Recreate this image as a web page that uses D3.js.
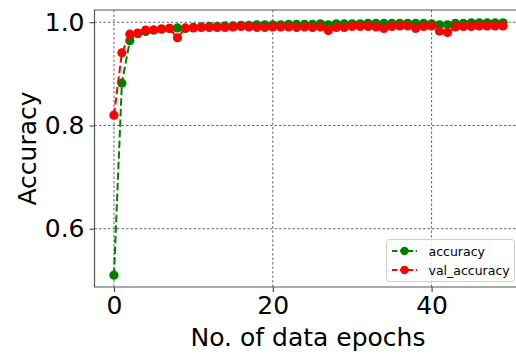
<!DOCTYPE html>
<html>
<head>
<meta charset="utf-8">
<script src="https://cdn.jsdelivr.net/npm/d3@7"></script>
<style>
  body { margin: 0; background: white; }
  text { font-family: "DejaVu Sans", sans-serif; fill: black; }
</style>
</head>
<body>
<svg id="chart"></svg>
<script>
const epochs = d3.range(0, 50)
const accuracy = [0.510, 0.882, 0.964, 0.978, 0.982, 0.985, 0.987, 0.988, 0.989, 0.988,
                  0.990, 0.991, 0.992, 0.992, 0.993, 0.993, 0.994, 0.994, 0.995, 0.995,
                  0.995, 0.995, 0.996, 0.996, 0.996, 0.996, 0.997, 0.995, 0.997, 0.997,
                  0.997, 0.997, 0.998, 0.998, 0.998, 0.998, 0.998, 0.998, 0.998, 0.998,
                  0.997, 0.995, 0.995, 0.998, 0.998, 0.999, 0.999, 0.999, 0.999, 0.999]
const valAccuracy = [0.820, 0.941, 0.977, 0.979, 0.985, 0.985, 0.987, 0.988, 0.970, 0.989,
                     0.989, 0.990, 0.990, 0.990, 0.990, 0.991, 0.992, 0.991, 0.990, 0.990,
                     0.991, 0.991, 0.991, 0.990, 0.991, 0.990, 0.991, 0.984, 0.990, 0.990,
                     0.992, 0.992, 0.992, 0.991, 0.988, 0.992, 0.993, 0.993, 0.988, 0.992,
                     0.993, 0.983, 0.980, 0.991, 0.992, 0.992, 0.993, 0.993, 0.993, 0.993]
const xTicks = [0, 20, 40]
const yTicks = [0.6, 0.8, 1.0]
const seriesNames = ["accuracy", "val_accuracy"]
const seriesColors = ["#008000", "#ff0000"]

const width = 516, height = 354
const plot = {left: 94.5, right: 522.5, top: 10, bottom: 287}
const bigFont = "25px"

const svg = d3.select("#chart").attr("width", width).attr("height", height)

const x = d3.scaleLinear().domain([-2.45, 51.45]).range([plot.left, plot.right])
const y = d3.scaleLinear().domain([0.487, 1.0238]).range([plot.bottom, plot.top])

// grid
svg.append("g").selectAll("line.vgrid")
    .data(xTicks).join("line")
    .attr("x1", d => x(d)).attr("x2", d => x(d))
    .attr("y1", plot.top).attr("y2", plot.bottom)
    .style("stroke", "#444").style("stroke-width", 0.8)
    .style("stroke-dasharray", "2.5,2")
svg.append("g").selectAll("line.hgrid")
    .data(yTicks).join("line")
    .attr("x1", plot.left).attr("x2", plot.right)
    .attr("y1", d => y(d)).attr("y2", d => y(d))
    .style("stroke", "#444").style("stroke-width", 0.8)
    .style("stroke-dasharray", "2.5,2")

// axes
const xAxis = svg.append("g")
    .attr("transform", `translate(0, ${plot.bottom})`)
    .call(d3.axisBottom(x).tickValues(xTicks).tickFormat(d3.format("d")).tickSize(5).tickPadding(4))
const yAxis = svg.append("g")
    .attr("transform", `translate(${plot.left}, 0)`)
    .call(d3.axisLeft(y).tickValues(yTicks).tickFormat(d3.format(".1f")).tickSize(5).tickPadding(5))

for (const ax of [xAxis, yAxis]) {
    ax.select(".domain").remove()
    ax.selectAll("line").style("stroke", "#333").style("stroke-width", 1)
    ax.selectAll("text").style("font-size", bigFont).style("font-family", "DejaVu Sans")
}

// spines
svg.append("path")
    .attr("d", `M${plot.right},${plot.top}H${plot.left}V${plot.bottom}H${plot.right}`)
    .style("fill", "none").style("stroke", "#555").style("stroke-width", 1.2)

// series
const drawSeries = (values, color) => {
    const pts = epochs.map((e, i) => [e, values[i]])
    svg.append("path")
        .datum(pts)
        .attr("d", d3.line().x(d => x(d[0])).y(d => y(d[1])))
        .style("fill", "none").style("stroke", color)
        .style("stroke-width", 2).style("stroke-dasharray", "7.4,3.2")
    svg.append("g").selectAll("circle")
        .data(pts).join("circle")
        .attr("cx", d => x(d[0])).attr("cy", d => y(d[1]))
        .attr("r", 4.6)
        .style("fill", color)
}
drawSeries(accuracy, seriesColors[0])
drawSeries(valAccuracy, seriesColors[1])

// axis labels
svg.append("text").text("No. of data epochs")
    .attr("x", 308).attr("y", 345.5)
    .attr("text-anchor", "middle").style("font-size", bigFont)
svg.append("text").text("Accuracy")
    .attr("transform", `translate(35.5, ${(plot.top + plot.bottom) / 2}) rotate(-90)`)
    .attr("text-anchor", "middle").style("font-size", bigFont)

// legend
const legend = svg.append("g")
legend.append("rect")
    .attr("x", 386.5).attr("y", 239.5).attr("width", 128).attr("height", 42)
    .attr("rx", 3)
    .style("fill", "white").style("fill-opacity", 0.8)
    .style("stroke", "#d0d0d0").style("stroke-width", 1)
const legendRows = legend.selectAll("g.row")
    .data(seriesNames).join("g")
    .attr("transform", (d, i) => `translate(0, ${251 + i * 19})`)
legendRows.append("line")
    .attr("x1", 392).attr("x2", 417).attr("y1", 0).attr("y2", 0)
    .style("stroke", (d, i) => seriesColors[i]).style("stroke-width", 2)
    .style("stroke-dasharray", "5.5,2.4")
legendRows.append("circle")
    .attr("cx", 404.5).attr("cy", 0).attr("r", 4.2)
    .style("fill", (d, i) => seriesColors[i])
legendRows.append("text").text(d => d)
    .attr("x", 428.5).attr("y", 4.5)
    .style("font-size", "12.5px")
</script>
</body>
</html>
